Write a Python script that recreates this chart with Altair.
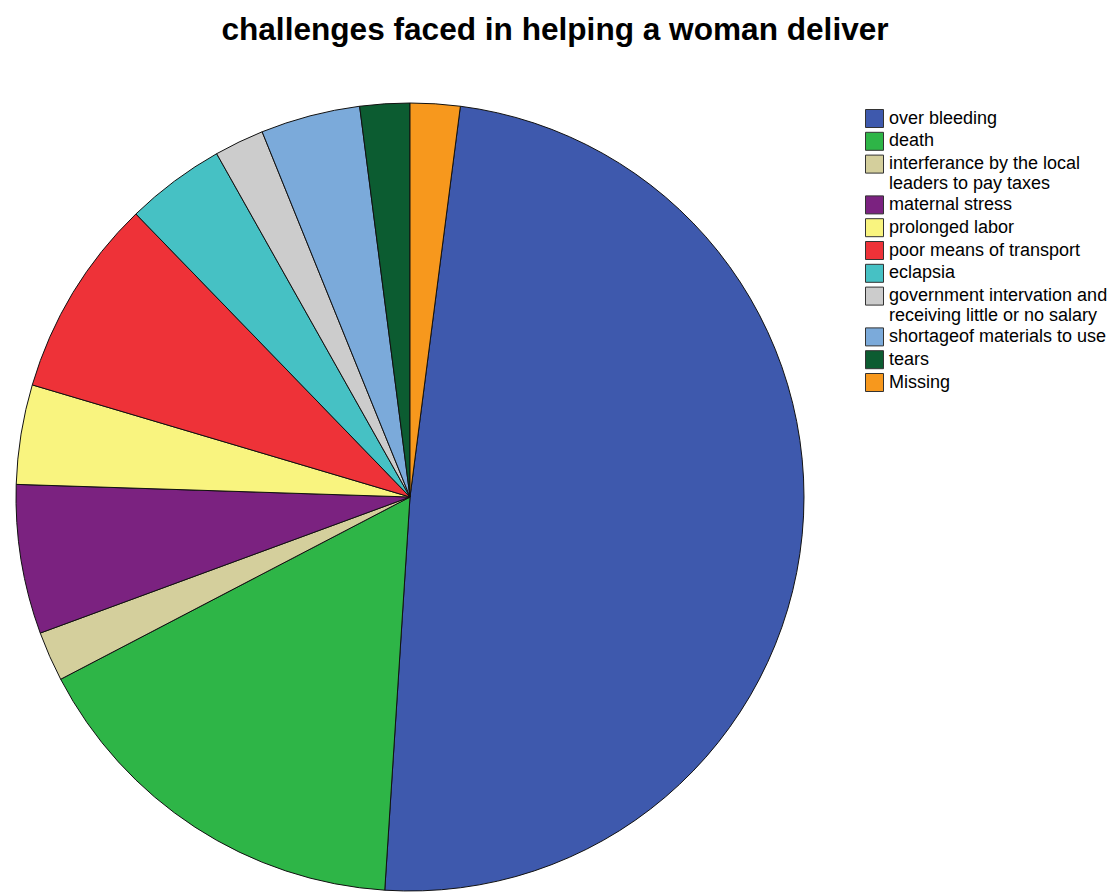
import altair as alt
import pandas as pd

# ---- data ----
categories = [
    "over bleeding",
    "death",
    "interferance by the local|leaders to pay taxes",
    "maternal stress",
    "prolonged labor",
    "poor means of transport",
    "eclapsia",
    "government intervation and|receiving little or no salary",
    "shortageof materials to use",
    "tears",
    "Missing",
]
counts = [24, 8, 1, 3, 2, 4, 2, 1, 2, 1, 1]
colors = [
    "#3E59AD", "#2EB547", "#D4CF9C", "#7B2280", "#F9F47F", "#EE3238",
    "#46C1C4", "#CCCCCC", "#7BAADA", "#0C5C31", "#F7981D",
]
# slice drawing order clockwise from 12 o'clock (Missing is drawn first)
draw_order = [1, 2, 3, 4, 5, 6, 7, 8, 9, 10, 0]

df = pd.DataFrame({"category": categories, "count": counts, "ord": draw_order})

chart = (
    alt.Chart(df)
    .mark_arc(radius=394, stroke="#111111", strokeWidth=1)
    .encode(
        theta=alt.Theta("count:Q", stack=True),
        color=alt.Color(
            "category:N",
            scale=alt.Scale(domain=categories, range=colors),
            legend=alt.Legend(
                title=None,
                orient="none",
                legendX=857,
                legendY=7,
                padding=0,
                symbolType="square",
                symbolSize=324,
                symbolStrokeColor="#333333",
                symbolStrokeWidth=1,
                symbolOpacity=1,
                labelFont="Liberation Sans",
                labelFontSize=18,
                labelColor="black",
                labelExpr="split(datum.label, '|')",
                labelLimit=400,
                labelOffset=5,
                rowPadding=-0.2,
            ),
        ),
        order=alt.Order("ord:Q", sort="ascending"),
        tooltip=["category:N", "count:Q"],
    )
    .properties(
        width=804,
        height=790,
        padding={"left": 0, "top": 94, "right": 300, "bottom": 0},
        autosize=alt.AutoSizeParams(type="none"),
        title=alt.Title(
            "challenges faced in helping a woman deliver",
            font="Liberation Sans",
            fontSize=31.6,
            fontWeight="bold",
            color="black",
            anchor="middle",
            dx=145,
            offset=54,
        ),
    )
    .configure_view(stroke=None)
    .configure(background="white")
)

chart.save("out.html", embed_options={"renderer": "svg", "actions": False})
